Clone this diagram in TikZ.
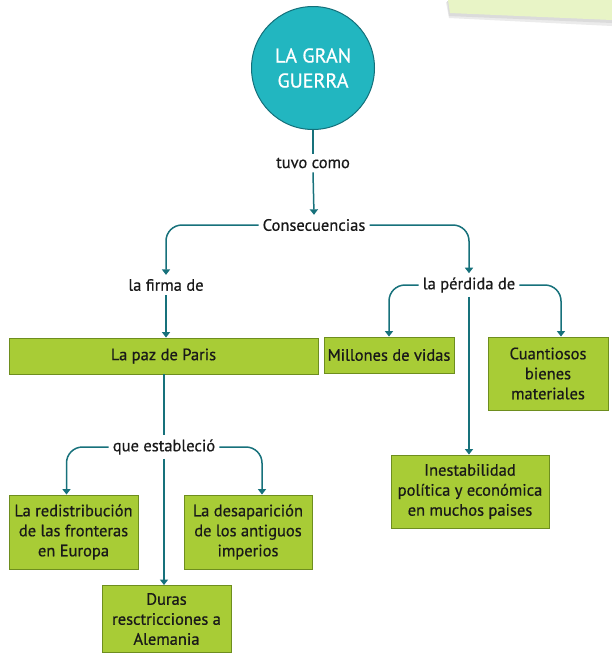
\documentclass[tikz,border=0pt]{standalone}
\usepackage{fontspec}
\setmainfont{PT Sans}
\newfontfamily\medfont{PT Sans}[FakeBold=0.6]
\usetikzlibrary{arrows.meta,calc}
\definecolor{teal1}{HTML}{22B6C0}
\definecolor{teal2}{HTML}{14707A}
\definecolor{line1}{HTML}{17717B}
\definecolor{lime}{HTML}{A8CC36}
\definecolor{limeb}{HTML}{6E8E1E}
\definecolor{paper}{HTML}{E8F4C6}
\tikzset{
  conn/.style={draw=line1, line width=1.5pt},
  arr/.style={conn, -{Triangle[width=8pt,length=5.5pt]}},
  lbl/.style={font=\medfont\fontsize{16.5}{19}\selectfont, text=black!90, inner sep=4pt},
  box/.style={draw=limeb, line width=0.9pt, fill=lime, font=\medfont\fontsize{16.5}{20}\selectfont,
    text=black!90, align=center, inner sep=0pt},
}
\begin{document}
\begin{tikzpicture}[x=1pt,y=-1pt]
\useasboundingbox (0,0) rectangle (612,657);
\fill[white] (0,0) rectangle (612,657);
% paper strip with shadow
\fill[black!8] (446,2) -- (612,2) -- (612,26) -- (449,18) -- cycle;
\fill[black!14] (447,1) -- (612,1) -- (612,23) -- (449,16) -- cycle;
\fill[paper] (448,0) -- (612,0) -- (612,20) -- (450,13) -- cycle;
% circle
\node[circle, draw=teal2, line width=1pt, fill=teal1, minimum size=123pt, inner sep=0pt,
  text=white, align=center, font=\medfont\fontsize{20}{25}\selectfont] (gg) at (313,68) {LA GRAN\\GUERRA};
% labels
\node[lbl] (tuvo) at (313,163) {tuvo como};
\node[lbl] (cons) at (314,225) {Consecuencias};
\node[lbl] (firma) at (166,285) {la firma de};
\node[lbl] (perd) at (469,285) {la pérdida de};
\node[lbl] (que) at (164,447) {que estableció};
% boxes
\node[box, minimum width=309pt, minimum height=36pt] (paz) at (163.5,356) {La paz de Paris};
\node[box, minimum width=130pt, minimum height=36pt] (mill) at (389,355) {Millones de vidas};
\node[box, minimum width=120pt, minimum height=73pt] (cuan) at (548,373.5) {Cuantiosos\\bienes\\materiales};
\node[box, minimum width=158pt, minimum height=73pt] (ines) at (470,491.5) {Inestabilidad\\política y económica\\en muchos paises};
\node[box, minimum width=129pt, minimum height=74pt] (redi) at (73.5,532) {La redistribución\\de las fronteras\\en Europa};
\node[box, minimum width=128pt, minimum height=74pt] (desa) at (248,532) {La desaparición\\de los antiguos\\imperios};
\node[box, minimum width=129pt, minimum height=67pt] (dura) at (166.5,619) {Duras\\resctricciones a\\Alemania};
% connectors
\draw[conn] (gg.south) -- (tuvo.north);
\draw[arr] (tuvo.south) -- (cons.north);
\draw[arr, rounded corners=16pt] (cons.west) -| (firma.north);
\draw[arr, rounded corners=16pt] (cons.east) -| (perd.north);
\draw[arr] (firma.south) -- (firma.south |- paz.north);
\draw[arr, rounded corners=16pt] (perd.west) -| (mill.north);
\draw[arr, rounded corners=16pt] (perd.east) -| ($(cuan.north)+(13,0)$);
\draw[arr] (perd.south) -- (perd.south |- ines.north);
\draw[conn] (paz.south -| que.north) -- (que.north);
\draw[arr, rounded corners=16pt] (que.west) -| ($(redi.north)+(-7,0)$);
\draw[arr, rounded corners=16pt] (que.east) -| ($(desa.north)+(14,0)$);
\draw[arr] (que.south) -- (que.south |- dura.north);
\end{tikzpicture}
\end{document}
